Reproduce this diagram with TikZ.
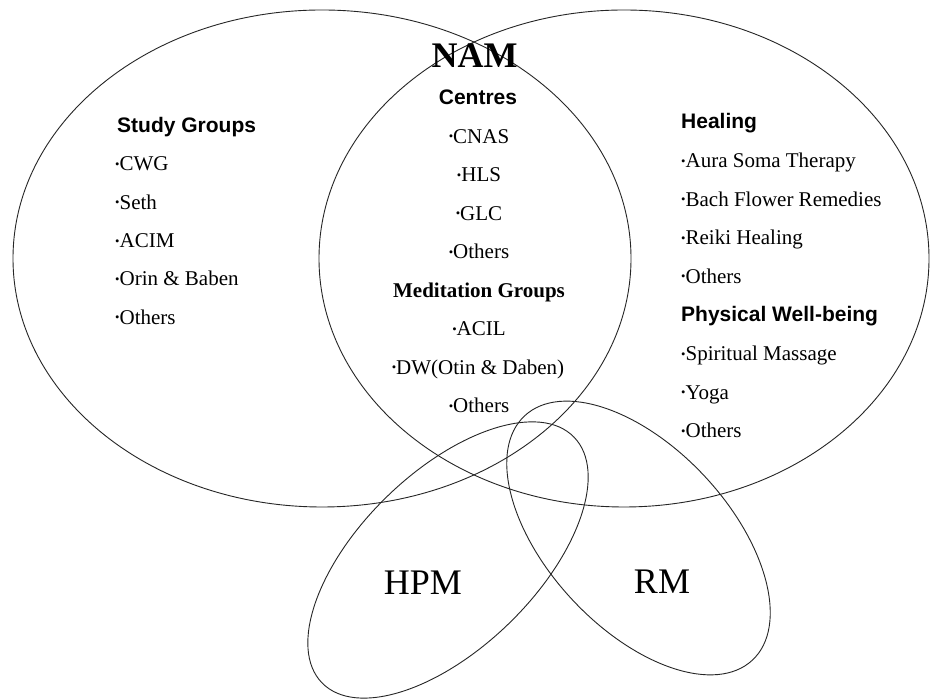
\documentclass[tikz,border=0pt]{standalone}
\usepackage{fontspec}
\setmainfont{Liberation Serif}
\setsansfont{Liberation Sans}
\usetikzlibrary{shapes.geometric}
\newcommand\bul{\raisebox{0.12em}{\scalebox{0.6}{•}}}
\begin{document}
\begin{tikzpicture}[x=1pt,y=1pt,
  ring/.style={draw=black!85, line width=0.9pt, ellipse, inner sep=0pt, outer sep=0pt},
  head/.style={font=\fontsize{21}{21}\selectfont\sffamily\bfseries, inner sep=0pt, anchor=base west},
  item/.style={font=\fontsize{21}{21}\selectfont, inner sep=0pt, anchor=base west},
  citem/.style={font=\fontsize{21}{21}\selectfont, inner sep=0pt, anchor=base},
  big/.style={font=\fontsize{36}{36}\selectfont, inner sep=0pt, anchor=base}]
\useasboundingbox[fill=white] (0,0) rectangle (931,700);
% ellipses
\node[ring, minimum width=618pt, minimum height=497pt] (left) at (322,441.5) {};
\node[ring, minimum width=610pt, minimum height=497pt] (right) at (624,441.5) {};
\node[ring, minimum width=352pt, minimum height=176pt, rotate=44.3] (hpm) at (448,140) {};
\node[ring, minimum width=334pt, minimum height=181pt, rotate=-47] (rm) at (638.5,162) {};
% title
\node[big, font=\fontsize{36}{36}\selectfont\bfseries] (nam) at (474.5,632) {NAM};
% left column
\node[head] (sg) at (117,567) {Study Groups};
\node[item] (l1) at (115,529) {\bul CWG};
\node[item] (l2) at (115,490.7) {\bul Seth};
\node[item] (l3) at (115,452.4) {\bul ACIM};
\node[item] (l4) at (115,414.1) {\bul Orin \& Baben};
\node[item] (l5) at (115,375.8) {\bul Others};
% middle column
\node[citem, font=\fontsize{21}{21}\selectfont\sffamily\bfseries] (ce) at (478,595) {Centres};
\node[citem] (m1) at (479,556.5) {\bul CNAS};
\node[citem] (m2) at (479,518) {\bul HLS};
\node[citem] (m3) at (479,479.5) {\bul GLC};
\node[citem] (m4) at (479,441) {\bul Others};
\node[citem, font=\fontsize{21}{21}\selectfont\bfseries] (mg) at (479,402.5) {Meditation Groups};
\node[citem] (m5) at (479,364) {\bul ACIL};
\node[citem] (m6) at (478,325.5) {\bul DW(Otin \& Daben)};
\node[citem] (m7) at (479,287) {\bul Others};
% right column
\node[head] (he) at (681,571) {Healing};
\node[item] (r1) at (681,532.4) {\bul Aura Soma Therapy};
\node[item] (r2) at (681,493.8) {\bul Bach Flower Remedies};
\node[item] (r3) at (681,455.2) {\bul Reiki Healing};
\node[item] (r4) at (681,416.6) {\bul Others};
\node[head] (pw) at (681,378) {Physical Well-being};
\node[item] (r5) at (681,339.4) {\bul Spiritual Massage};
\node[item] (r6) at (681,300.8) {\bul Yoga};
\node[item] (r7) at (681,262.2) {\bul Others};
% lower labels
\node[big] (hpmlabel) at (423,105) {HPM};
\node[big] (rmlabel) at (662,106) {RM};
\end{tikzpicture}
\end{document}
